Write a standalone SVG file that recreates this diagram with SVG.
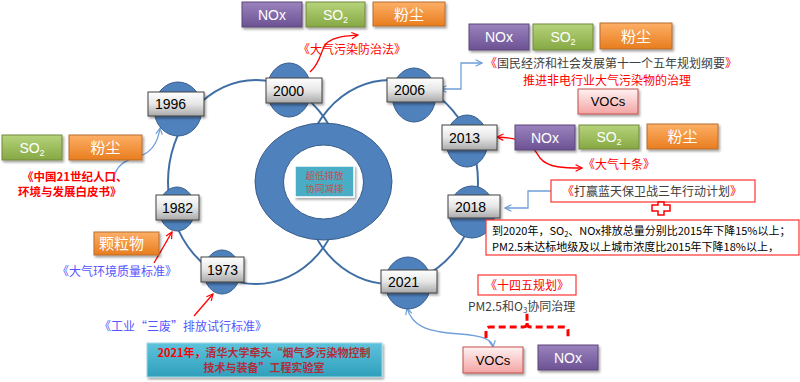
<svg xmlns="http://www.w3.org/2000/svg" width="800" height="382" viewBox="0 0 800 382">
<defs>
<linearGradient id="gYear" x1="0" y1="0" x2="0" y2="1"><stop offset="0" stop-color="#ffffff"/><stop offset="0.5" stop-color="#e6e6e6"/><stop offset="1" stop-color="#a9a9a9"/></linearGradient>
<linearGradient id="gPur" x1="0" y1="0" x2="0" y2="1"><stop offset="0" stop-color="#9a83bd"/><stop offset="1" stop-color="#6c5294"/></linearGradient>
<linearGradient id="gGrn" x1="0" y1="0" x2="0" y2="1"><stop offset="0" stop-color="#b6d37b"/><stop offset="1" stop-color="#86a843"/></linearGradient>
<linearGradient id="gOrg" x1="0" y1="0" x2="0" y2="1"><stop offset="0" stop-color="#fdaf66"/><stop offset="1" stop-color="#e87d1e"/></linearGradient>
<linearGradient id="gPnk" x1="0" y1="0" x2="0" y2="1"><stop offset="0" stop-color="#fff2f2"/><stop offset="1" stop-color="#f4a3a3"/></linearGradient>
<linearGradient id="gTeal" x1="0" y1="0" x2="0" y2="1"><stop offset="0" stop-color="#5ec3dc"/><stop offset="1" stop-color="#2f9fbb"/></linearGradient>
<filter id="sh" x="-20%" y="-30%" width="140%" height="160%"><feDropShadow dx="1.5" dy="2" stdDeviation="1" flood-color="#000" flood-opacity="0.35"/></filter>
<marker id="aB" viewBox="0 0 10 10" refX="9" refY="5" markerWidth="8" markerHeight="8" markerUnits="userSpaceOnUse" orient="auto-start-reverse"><path d="M1,1 L9,5 L1,9" fill="none" stroke="#6f9fd8" stroke-width="1.5"/></marker>
<marker id="aR" viewBox="0 0 10 10" refX="9" refY="5" markerWidth="8" markerHeight="8" markerUnits="userSpaceOnUse" orient="auto-start-reverse"><path d="M1,1 L9,5 L1,9" fill="none" stroke="#ff0000" stroke-width="1.5"/></marker>
<style>
.orbit{fill:none;stroke:#3f6ea5;stroke-width:2}
.dot{fill:#4f81bd;stroke:#385d8a;stroke-width:1}
.yb{fill:url(#gYear);stroke:#404040;stroke-width:1;filter:url(#sh)}
.yt{font-family:"Liberation Sans",Arial,sans-serif;font-size:14px;fill:#000}
.mid{text-anchor:middle}
.pur{fill:url(#gPur);stroke:#5c4776;stroke-width:1;filter:url(#sh)}
.grn{fill:url(#gGrn);stroke:#71893f;stroke-width:1;filter:url(#sh)}
.org{fill:url(#gOrg);stroke:#b66d31;stroke-width:1;filter:url(#sh)}
.pnk{fill:url(#gPnk);stroke:#c0504d;stroke-width:1;filter:url(#sh)}
.wt{font-family:"Liberation Sans",Arial,sans-serif;font-size:14px;fill:#fff;text-anchor:middle}
.cw{font-family:"Noto Sans CJK SC",sans-serif;font-size:15px;fill:#fff}
.bt{font-family:"Liberation Sans",Arial,sans-serif;font-size:13px;fill:#000;text-anchor:middle}
.lab{font-family:"Noto Sans CJK SC",sans-serif;font-size:12px}
.s11{font-size:11px}
.s115{font-size:11.5px}
.red{fill:#ff0000}
.gry{fill:#404040}
.blu{fill:#5555ff}
.blk{fill:#000}
.rbox{fill:#fff;stroke:#ff3333;stroke-width:1.2}
.cb{fill:none;stroke:#6f9fd8;stroke-width:1.3}
.cr{fill:none;stroke:#ff0000;stroke-width:1.3}
</style>
</defs>
<rect width="800" height="382" fill="#fff"/>

<g id="connectors">
<ellipse class="orbit" cx="256" cy="182" rx="88" ry="102"/>
<ellipse class="orbit" cx="390" cy="182" rx="88" ry="102"/>
<path class="cr" d="M310,72 C322,62 320,48 328,42 C336,36 348,36 358,35" marker-end="url(#aR)"/>
<path class="cb" d="M440,89 L461,89 L461,63 L482,63" marker-start="url(#aB)" marker-end="url(#aB)"/>
<path class="cr" d="M497,137 C530,138 535,150 540,158 C548,168 565,168 582,168" marker-start="url(#aR)" marker-end="url(#aR)"/>
<path class="cb" d="M551,191 L528,191 L528,208 L505,208" marker-end="url(#aB)"/>
<path class="cb" d="M407,308 C412,325 425,332 460,334 C485,336 492,340 493,347" marker-start="url(#aB)" marker-end="url(#aB)"/>
<path class="cb" d="M113,180 C116,165 125,160 140,156 C152,152 158,142 160,128" marker-end="url(#aB)"/>
<path class="cr" d="M154,263 L172,232" marker-end="url(#aR)"/>
<path class="cr" d="M194,316 L213,294" marker-end="url(#aR)"/>
<path d="M486,338 L486,331 Q486,327 490,327 L523,327 Q527,327 527,323 L527,313 M527,323 Q527,327 531,327 L564,327 Q568,327 568,331 L568,338" fill="none" stroke="#ff0000" stroke-width="3" stroke-dasharray="7 4"/>
</g>

<g id="ring">
<ellipse cx="323.5" cy="181.5" rx="68.5" ry="58.5" fill="#4f81bd" stroke="#385d8a" stroke-width="1"/>
<ellipse cx="323.5" cy="182" rx="40" ry="37" fill="#fff" stroke="#385d8a" stroke-width="1"/>
<rect x="295" y="166" width="59" height="31" fill="#4bacc6" stroke="#ffffff" stroke-width="1.5" filter="url(#sh)"/>
<text x="324.5" y="179" font-family="Noto Sans CJK SC,sans-serif" font-size="9.5" fill="#c0504d" text-anchor="middle">超低排放</text>
<text x="324.5" y="192" font-family="Noto Sans CJK SC,sans-serif" font-size="9.5" fill="#c0504d" text-anchor="middle">协同减排</text>
</g>

<g id="n1996"><ellipse class="dot" cx="178" cy="109" rx="24" ry="27"/><rect class="yb" x="148" y="92" width="56" height="24"/><text class="yt" x="155" y="109">1996</text></g>
<g id="n2000"><ellipse class="dot" cx="289" cy="90" rx="22" ry="27"/><rect class="yb" x="266" y="78" width="56" height="25"/><text class="yt" x="273" y="95.5">2000</text></g>
<g id="n2006"><ellipse class="dot" cx="414" cy="95" rx="22" ry="27"/><rect class="yb" x="387" y="78" width="56" height="24"/><text class="yt" x="394" y="95">2006</text></g>
<g id="n2013"><ellipse class="dot" cx="467" cy="141" rx="21" ry="26"/><rect class="yb" x="442" y="125" width="55" height="25"/><text class="yt" x="449" y="142.5">2013</text></g>
<g id="n2018"><ellipse class="dot" cx="472" cy="212" rx="23" ry="26"/><rect class="yb" x="448" y="195" width="52" height="23"/><text class="yt" x="455" y="211.5">2018</text></g>
<g id="n2021"><ellipse class="dot" cx="408" cy="283" rx="23" ry="26"/><rect class="yb" x="381" y="270" width="56" height="23"/><text class="yt" x="388" y="286.5">2021</text></g>
<g id="n1982"><ellipse class="dot" cx="177" cy="209" rx="18" ry="22"/><rect class="yb" x="156" y="195" width="43" height="25"/><text class="yt mid" x="177.5" y="212.5">1982</text></g>
<g id="n1973"><ellipse class="dot" cx="222" cy="272" rx="18" ry="22"/><rect class="yb" x="201" y="257" width="43" height="25"/><text class="yt mid" x="222.5" y="274.5">1973</text></g>

<g id="tags2000">
<rect class="pur" x="242" y="2" width="60" height="25"/><text class="wt" x="272" y="19.5">NOx</text>
<rect class="grn" x="306" y="2" width="59" height="25"/><text class="wt" x="335.5" y="19.5">SO<tspan font-size="9" dy="3">2</tspan></text>
<rect class="org" x="373" y="2" width="72" height="24"/><text class="cw mid" x="409" y="19.5">粉尘</text>
</g>
<g id="tags2006">
<rect class="pur" x="469" y="24" width="60" height="26"/><text class="wt" x="499" y="42">NOx</text>
<rect class="grn" x="533" y="24" width="60" height="26"/><text class="wt" x="563" y="42">SO<tspan font-size="9" dy="3">2</tspan></text>
<rect class="org" x="600" y="23" width="72" height="26"/><text class="cw mid" x="636" y="41.5">粉尘</text>
<rect class="pnk" x="578" y="89" width="60" height="25"/><text class="bt" x="608" y="106">VOCs</text>
</g>
<g id="tags2013">
<rect class="pur" x="515" y="125" width="60" height="25"/><text class="wt" x="545" y="142.5">NOx</text>
<rect class="grn" x="579" y="125" width="60" height="24"/><text class="wt" x="609" y="142">SO<tspan font-size="9" dy="3">2</tspan></text>
<rect class="org" x="647" y="124" width="71" height="25"/><text class="cw mid" x="682.5" y="142">粉尘</text>
</g>
<g id="tags1996">
<rect class="grn" x="2" y="135" width="60" height="25"/><text class="wt" x="32" y="152.5">SO<tspan font-size="9" dy="3">2</tspan></text>
<rect class="org" x="69" y="135" width="73" height="25"/><text class="cw mid" x="105.5" y="153">粉尘</text>
</g>
<g id="tag1982">
<rect class="org" x="94" y="232" width="65" height="23"/><text class="cw" x="99" y="249">颗粒物</text>
</g>
<g id="tags2021">
<rect class="pnk" x="463" y="347" width="60" height="26"/><text class="bt" x="493" y="365">VOCs</text>
<rect class="pur" x="538" y="345" width="60" height="25"/><text class="wt" x="568" y="362.5">NOx</text>
</g>

<g id="labels">
<text class="lab red" x="298" y="54">《大气污染防治法》</text>
<text class="lab gry" x="485" y="68"><tspan class="red">《</tspan>国民经济和社会发展第十一个五年规划纲要<tspan class="red">》</tspan></text>
<text class="lab red" x="607" y="85" text-anchor="middle">推进非电行业大气污染物的治理</text>
<text class="lab red" x="583" y="169">《大气十条》</text>
<text class="lab s115 red" x="22" y="180.5" font-weight="bold">《中国21世纪人口、</text>
<text class="lab s115 red" x="18" y="196" font-weight="bold">环境与发展白皮书》</text>
<text class="lab blu" x="57" y="276">《大气环境质量标准》</text>
<text class="lab blu" x="99" y="331">《工业“三废”排放试行标准》</text>
</g>

<g id="plan2018">
<rect class="rbox" x="551" y="180" width="204" height="22"/>
<text class="lab gry" x="562" y="195.5"><tspan class="red">《</tspan>打赢蓝天保卫战三年行动计划<tspan class="red">》</tspan></text>
<path d="M658,202 L664,202 L664,205 L670,205 L670,211 L664,211 L664,215 L658,215 L658,211 L652,211 L652,205 L658,205 Z" fill="#fff" stroke="#ff0000" stroke-width="1.5"/>
<rect class="rbox" x="486" y="220" width="313" height="35"/>
<text class="lab s11 blk" x="492" y="234.5">到2020年，SO<tspan font-size="7.5" dy="2">2</tspan><tspan dy="-2">、NOx排放总量分别比2015年下降15%以上；</tspan></text>
<text class="lab s11 blk" x="492" y="251">PM2.5未达标地级及以上城市浓度比2015年下降18%以上，</text>
</g>

<g id="plan2021">
<rect class="rbox" x="478" y="275" width="98" height="20"/>
<text class="lab red" x="527" y="289.5" text-anchor="middle">《十四五规划》</text>
<text class="lab gry" x="468" y="311">PM2.5和O<tspan font-size="8" dy="2">3</tspan><tspan dy="-2">协同治理</tspan></text>
</g>

<g id="lab2021">
<rect x="147" y="343" width="235" height="34" fill="url(#gTeal)" stroke="#9fd6e4" stroke-width="1" filter="url(#sh)"/>
<text class="lab s11" x="264" y="357" font-weight="bold" fill="#b22d3a" text-anchor="middle"><tspan fill="#ff0000">2021年，</tspan>清华大学牵头“烟气多污染物控制</text>
<text class="lab s11" x="264" y="372" font-weight="bold" fill="#b22d3a" text-anchor="middle">技术与装备”工程实验室</text>
</g>
</svg>
